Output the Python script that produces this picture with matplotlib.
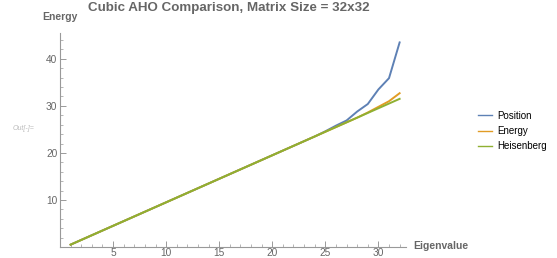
import matplotlib
matplotlib.use("Agg")
from matplotlib import pyplot as plt
from matplotlib.ticker import MultipleLocator

plt.rcParams["font.family"] = ["Liberation Sans", "DejaVu Sans"]

eigen_index = list(range(1, 33))

heisenberg = [0.5, 1.5, 2.5, 3.5, 4.5, 5.5, 6.5, 7.5, 8.5, 9.5,
              10.5, 11.5, 12.5, 13.5, 14.5, 15.5, 16.5, 17.5, 18.5, 19.5,
              20.5, 21.5, 22.5, 23.5, 24.5, 25.5, 26.5, 27.5, 28.5, 29.5,
              30.5, 31.5]
energy = [0.5, 1.5, 2.5, 3.5, 4.5, 5.5, 6.5, 7.5, 8.5, 9.5,
          10.5, 11.5, 12.5, 13.5, 14.5, 15.5, 16.5, 17.5, 18.5, 19.5,
          20.5, 21.5, 22.5, 23.5, 24.5, 25.5, 26.5, 27.5, 28.6, 29.8,
          31.0, 32.7]
position = [0.5, 1.5, 2.5, 3.5, 4.5, 5.5, 6.5, 7.5, 8.5, 9.5,
            10.5, 11.5, 12.5, 13.5, 14.5, 15.5, 16.5, 17.5, 18.5, 19.5,
            20.5, 21.5, 22.5, 23.5, 24.6, 25.8, 26.9, 28.8, 30.4, 33.5,
            35.9, 43.5]

series_names = ["Position", "Energy", "Heisenberg"]
series_colors = ["#5E81B5", "#E19C24", "#8FB032"]

fig = plt.figure(figsize=(5.57, 2.58), dpi=100)
# axes placed so data (0,0) sits at pixel (60, 247)
ax = fig.add_axes([60 / 557, (258 - 247) / 258, 346 / 557, 214 / 258])

for name, ys, c in zip(series_names, [position, energy, heisenberg], series_colors):
    ax.plot(eigen_index, ys, color=c, lw=1.4, label=name)

ax.set_xlim(0, 32.6)
ax.set_ylim(0, 45.5)

for side in ("top", "right"):
    ax.spines[side].set_visible(False)
for side in ("left", "bottom"):
    ax.spines[side].set_color("#999999")
    ax.spines[side].set_linewidth(0.8)

ax.xaxis.set_major_locator(MultipleLocator(5))
ax.xaxis.set_minor_locator(MultipleLocator(1))
ax.yaxis.set_major_locator(MultipleLocator(10))
ax.yaxis.set_minor_locator(MultipleLocator(2))
ax.tick_params(which="major", direction="in", length=4, width=0.7,
               color="#999999", labelcolor="#666666", labelsize=7.3, pad=2)
ax.tick_params(axis="x", which="major", pad=1)
ax.tick_params(which="minor", direction="in", length=2, width=0.5, color="#999999")
ax.set_xticks([5, 10, 15, 20, 25, 30])
ax.set_yticks([10, 20, 30, 40])

fig.text(229 / 557, 1 - 8 / 258, "Cubic AHO Comparison, Matrix Size = 32x32",
         ha="center", va="center", fontsize=9.6, fontweight="bold", color="#666666")
fig.text(60 / 557, 1 - 17 / 258, "Energy", ha="center", va="center",
         fontsize=7.5, fontweight="bold", color="#666666")
fig.text(413 / 557, 1 - 246 / 258, "Eigenvalue", ha="left", va="center",
         fontsize=7.5, fontweight="bold", color="#666666")
fig.text(13 / 557, 1 - 128 / 258, "Out[-]=", ha="left", va="center",
         fontsize=5, style="italic", color="#bbbbbb")

leg = fig.legend(loc="center left", bbox_to_anchor=(474 / 557, 1 - 131 / 258),
                 frameon=False, fontsize=7, handlelength=1.5, handletextpad=0.5,
                 labelspacing=0.55, borderaxespad=0)
for t in leg.get_texts():
    t.set_color("#000000")
for h in leg.get_lines():
    h.set_linewidth(1.0)

fig.savefig("out.png", dpi=100)
plt.close(fig)
